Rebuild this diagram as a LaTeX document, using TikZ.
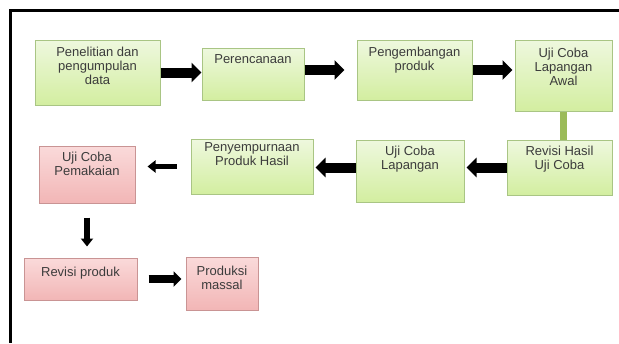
\documentclass[tikz,border=0pt]{standalone}
\usepackage{fontspec}
\setmainfont{Liberation Sans}
\usetikzlibrary{arrows.meta,shadows}
\definecolor{gtop}{HTML}{EEF8DE}
\definecolor{gbot}{HTML}{D3EEA0}
\definecolor{gdraw}{HTML}{A9C584}
\definecolor{ptop}{HTML}{FADADA}
\definecolor{pbot}{HTML}{F2B6B6}
\definecolor{pdraw}{HTML}{C99494}
\definecolor{txtc}{HTML}{3C3C3C}
\definecolor{garr}{HTML}{9BBB59}
\tikzset{
  gbox/.style={draw=gdraw, line width=1pt, top color=gtop, bottom color=gbot, inner sep=0pt,
    drop shadow={shadow xshift=1.2pt, shadow yshift=-1.2pt, opacity=0.18}},
  pbox/.style={draw=pdraw, line width=1pt, top color=ptop, bottom color=pbot, inner sep=0pt,
    drop shadow={shadow xshift=1.2pt, shadow yshift=-1.2pt, opacity=0.18}},
  txt/.style={text=txtc, align=center, inner sep=0pt, anchor=north,
    font=\fontsize{13}{14}\selectfont},
  bigarr/.style={line width=10pt, -{Triangle[length=10pt,width=19pt]}},
  midarr/.style={line width=8pt, -{Triangle[length=8pt,width=15pt]}},
  smallarr/.style={line width=5.5pt, -{Triangle[length=8pt,width=12pt]}},
}
\begin{document}
\begin{tikzpicture}[x=1pt,y=-1pt]
\useasboundingbox (0,0) rectangle (619,343);
\fill[white] (0,0) rectangle (619,343);
% frame
\coordinate (fc) at (10.5,10.5);
\coordinate (fr) at (619,10.5);
\coordinate (fb) at (10.5,343);
\draw[line width=3pt] (fr) -- (fc) -- (fb);
% boxes
\node[gbox, minimum width=125pt, minimum height=65pt] (b1) at (97.5,72.5) {};
\node[gbox, minimum width=102pt, minimum height=52pt] (b2) at (253,74) {};
\node[gbox, minimum width=115pt, minimum height=60pt] (b3) at (414.5,70) {};
\node[gbox, minimum width=97pt, minimum height=71pt] (b4) at (563.5,75.5) {};
\node[gbox, minimum width=105pt, minimum height=55pt] (b5) at (559.5,167.5) {};
\node[gbox, minimum width=108pt, minimum height=62pt] (b6) at (410,171) {};
\node[gbox, minimum width=122pt, minimum height=55pt] (b7) at (252,166.5) {};
\node[pbox, minimum width=96pt, minimum height=57pt] (b8) at (87,174.5) {};
\node[pbox, minimum width=113pt, minimum height=42pt] (b9) at (80.5,279) {};
\node[pbox, minimum width=72pt, minimum height=53pt] (b10) at (222,283.5) {};
% texts
\node[txt] (t1) at ([yshift=-7pt]b1.north) {Penelitian dan\\pengumpulan\\data};
\node[txt] (t2) at ([yshift=-7pt]b2.north) {Perencanaan};
\node[txt] (t3) at ([yshift=-7pt]b3.north) {Pengembangan\\produk};
\node[txt] (t4) at ([yshift=-8pt]b4.north) {Uji Coba\\Lapangan\\Awal};
\node[txt] (t5) at ([yshift=-6pt]b5.north) {Revisi Hasil\\Uji Coba};
\node[txt] (t6) at ([yshift=-6pt]b6.north) {Uji Coba\\Lapangan};
\node[txt] (t7) at ([yshift=-4pt]b7.north) {Penyempurnaan\\Produk Hasil};
\node[txt] (t8) at ([yshift=-6pt]b8.north) {Uji Coba\\Pemakaian};
\node[txt] (t9) at ([yshift=-9pt]b9.north) {Revisi produk};
\node[txt] (t10) at ([yshift=-9pt]b10.north) {Produksi\\massal};
% arrows
\draw[bigarr] (b1.east) -- (b1.east -| b2.west);
\draw[bigarr, shorten >=12pt] (b3.west -| b2.east) -- (b3.west);
\draw[bigarr, shorten >=2pt] (b3.east) -- (b3.east -| b4.west);
\draw[garr, line width=7pt] (b4.south) -- (b4.south |- b5.north);
\draw[bigarr, shorten >=2pt] (b5.west) -- (b5.west -| b6.east);
\draw[bigarr, shorten >=2pt] (b5.west -| b6.west) -- (b5.west -| b7.east);
\draw[smallarr, shorten <=14pt, shorten >=12pt] (b7.west) -- (b7.west -| b8.east);
\draw[smallarr, shorten <=14pt, shorten >=11pt] (b8.south) -- (b8.south |- b9.north);
\draw[midarr, shorten <=11pt, shorten >=4pt] (b9.east) -- (b9.east -| b10.west);
\end{tikzpicture}
\end{document}
